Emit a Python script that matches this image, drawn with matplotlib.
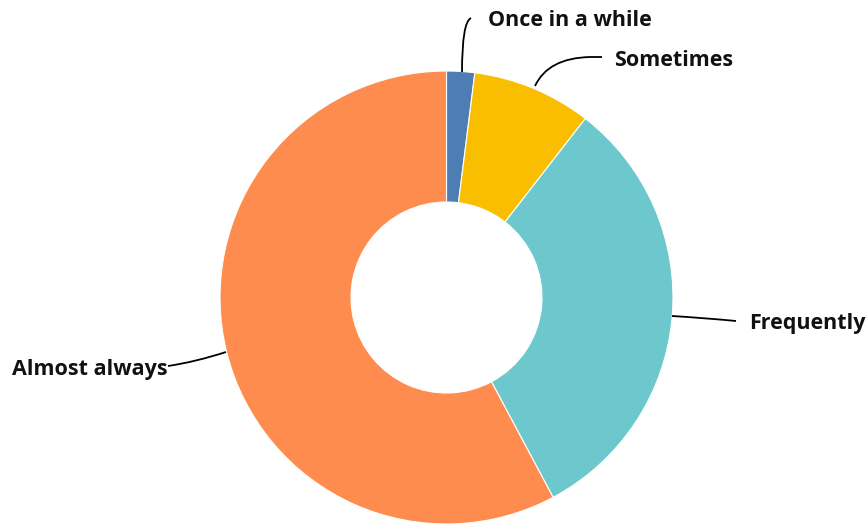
import matplotlib.pyplot as plt
from matplotlib.path import Path
from matplotlib.patches import PathPatch

etiquetas = ["Once in a while", "Sometimes", "Frequently", "Almost always"]
valores = [2.0, 8.5, 31.7, 57.8]
colores = ["#4E7DB4", "#F9BE00", "#6CC8CC", "#FF8C4F"]

plt.rcParams['font.family'] = ['Open Sans', 'DejaVu Sans']

fig = plt.figure(figsize=(8.68, 5.25), dpi=100)
ax = fig.add_axes([0, 0, 1, 1])

# Donut en coordenadas de pixeles (y hacia arriba)
centro = (446.5, 525 - 297.5)
ax.pie(valores, colors=colores, startangle=90, counterclock=False,
       center=centro, radius=226.5, frame=True,
       wedgeprops=dict(width=131, edgecolor='white', linewidth=0.8))
ax.set_xlim(0, 868)
ax.set_ylim(0, 525)
ax.set_aspect('equal')
ax.axis('off')

def y(p):
    return 525 - p

# Lineas guia (curvas bezier) y textos
guias = [
    [(462, 72), (462, 22), (471, 18)],
    [(535, 86), (548, 58), (590, 57), (602, 57)],
    [(672, 316), (705, 318), (736, 321)],
    [(226, 352), (195, 362), (168, 366)],
]
for pts in guias:
    verts = [(px, y(py)) for px, py in pts]
    if len(verts) == 3:
        codes = [Path.MOVETO, Path.CURVE3, Path.CURVE3]
    else:
        codes = [Path.MOVETO, Path.CURVE3, Path.CURVE3, Path.LINETO]
    ax.add_patch(PathPatch(Path(verts, codes), fill=False, lw=1.3, color='black'))

estilo = dict(fontsize=15.5, fontweight='bold', color='#111111', va='center')
ax.text(488, y(21), etiquetas[0], ha='left', **estilo)
ax.text(614, y(61), etiquetas[1], ha='left', **estilo)
ax.text(749, y(324), etiquetas[2], ha='left', **estilo)
ax.text(168, y(370), etiquetas[3], ha='right', **estilo)

plt.savefig("out.png", dpi=100)
